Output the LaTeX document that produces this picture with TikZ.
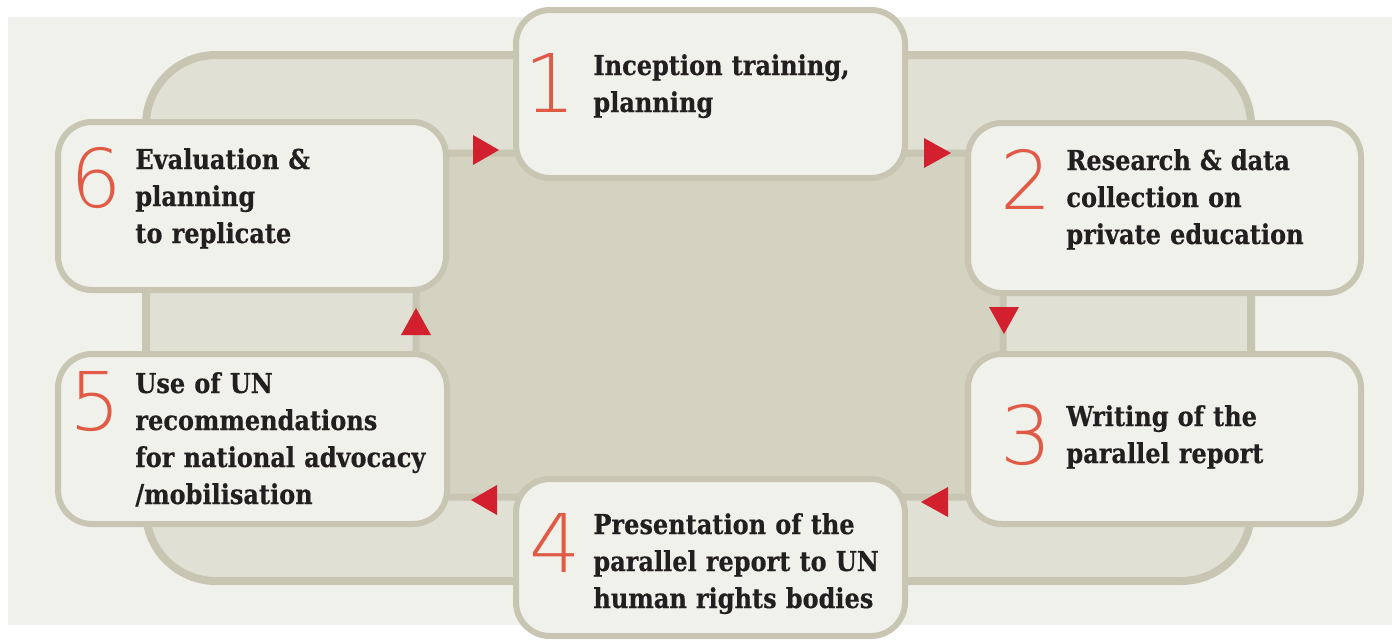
\documentclass[tikz,border=0pt]{standalone}
\usepackage{fontspec}
\newfontfamily\txtfont{DejaVuSerifCondensed-Bold.ttf}[FakeStretch=0.975,FakeBold=0.4]
\newfontfamily\numfont{DejaVuSans-ExtraLight.ttf}
\definecolor{pagebg}{HTML}{F0F1EB}
\definecolor{ringfill}{HTML}{E0E0D4}
\definecolor{innerfill}{HTML}{D4D3C1}
\definecolor{edge}{HTML}{C8C5B3}
\definecolor{arrred}{HTML}{D2202E}
\definecolor{numred}{HTML}{E05A46}
\definecolor{ink}{HTML}{231F20}
\tikzset{
  stepbox/.style={draw=edge, fill=pagebg, line width=3pt, rounded corners=17pt, inner sep=0pt},
  txt/.style={font=\txtfont\fontsize{13.7pt}{18.5pt}\selectfont, text=ink, inner sep=0pt, align=left, text width=170pt},
  num/.style={font=\numfont\fontsize{40.5pt}{40.5pt}\selectfont, text=numred, inner sep=0pt},
  arr/.style={fill=arrred}
}
\begin{document}
\begin{tikzpicture}[x=0.5pt,y=-0.5pt]
\useasboundingbox (0,0) rectangle (1392,639);
\clip (0,0) rectangle (1392,639);
\fill[pagebg] (8,17) rectangle (1392,625);
% outer ring
\draw[draw=edge, fill=ringfill, line width=4pt, rounded corners=35pt] (146,55) rectangle (1251,581);
% inner area
\draw[draw=edge, fill=innerfill, line width=3.5pt, rounded corners=15pt] (416,153) rectangle (1003,497);
% boxes
\node[stepbox, minimum width=194.5pt, minimum height=84pt] (b1) at (710.5,94) {};
\node[stepbox, minimum width=196.5pt, minimum height=85pt] (b2) at (1164.5,208) {};
\node[stepbox, minimum width=196.5pt, minimum height=85pt] (b3) at (1164.5,439) {};
\node[stepbox, minimum width=194.5pt, minimum height=78.5pt] (b4) at (710.5,557.5) {};
\node[stepbox, minimum width=194.5pt, minimum height=85pt] (b5) at (252.5,439) {};
\node[stepbox, minimum width=194pt, minimum height=84pt] (b6) at (252,206) {};
% arrows
\coordinate (a61) at (499,150);
\coordinate (a12) at (951,153);
\coordinate (a23) at (1004,334);
\coordinate (a34) at (921,502);
\coordinate (a45) at (471,500);
\coordinate (a56) at (416,308);
\fill[arr] (a61) -- ++(-26,-15) -- ++(0,30) -- cycle;
\fill[arr] (a12) -- ++(-27,-15) -- ++(0,30) -- cycle;
\fill[arr] (a23) -- ++(-15,-27) -- ++(30,0) -- cycle;
\fill[arr] (a34) -- ++(27,-15) -- ++(0,30) -- cycle;
\fill[arr] (a45) -- ++(26,-15) -- ++(0,30) -- cycle;
\fill[arr] (a56) -- ++(-15,27) -- ++(30,0) -- cycle;
% numerals
\node[num, anchor=base] (n1) at (550,112) {1};
\node[num, anchor=base] (n2) at (1026,209) {2};
\node[num, anchor=base] (n3) at (1026,464) {3};
\node[num, anchor=base] (n4) at (555,572) {4};
\node[num, anchor=base] (n5) at (95,430) {5};
\node[num, anchor=base] (n6) at (96,207) {6};
% texts
\node[txt, anchor=base west] (t1) at (593,75) {Inception training,\\planning};
\node[txt, anchor=base west] (t2) at (1066,170) {Research \& data\\collection on\\private education};
\node[txt, anchor=base west] (t3) at (1066,426) {Writing of the\\parallel report};
\node[txt, anchor=base west] (t4) at (593,534) {Presentation of the\\parallel report to UN\\human rights bodies};
\node[txt, anchor=base west] (t5) at (135,393) {Use of UN\\recommendations\\for national advocacy\\/mobilisation};
\node[txt, anchor=base west] (t6) at (135,169) {Evaluation \&\\planning\\to replicate};
\end{tikzpicture}
\end{document}
